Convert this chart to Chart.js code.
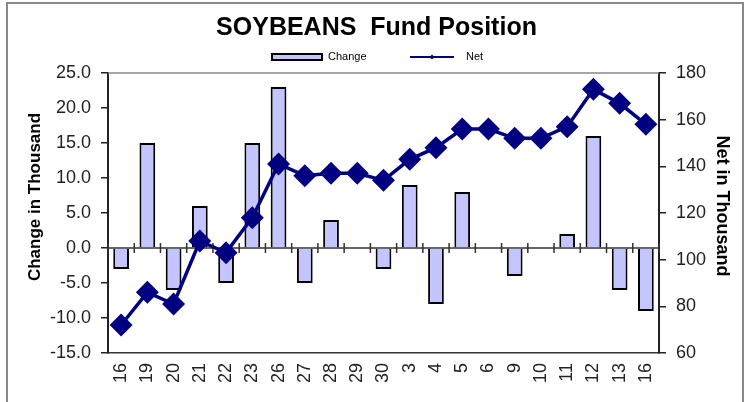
<!DOCTYPE html>
<html>
<head>
<meta charset="utf-8">
<script src="https://cdn.jsdelivr.net/npm/chart.js@4"></script>
<style>
  body { margin: 0; background: #fff; }
  #wrap { width: 755px; height: 402px; position: relative; }
</style>
</head>
<body>
<div id="wrap"><canvas id="fundChart" width="755" height="402"></canvas></div>
<script>
const dates = ["16", "19", "20", "21", "22", "23", "26", "27", "28", "29", "30", "3", "4", "5", "6", "9", "10", "11", "12", "13", "16"];
const changeValues = [-3, 15, -6, 6, -5, 15, 23, -5, 4, 0, -3, 9, -8, 8, 0, -4, 0, 2, 16, -6, -9];
const netValues = [72, 86, 81, 108, 103, 118, 141, 136, 137, 137, 134, 143, 148, 156, 156, 152, 152, 157, 173, 167, 158];

const barFill = "#c4c4ff";
const navy = "#000080";
const fontFamily = "Arial, 'Liberation Sans', sans-serif";

// frame, top border, zero line with ticks, axis titles and the legend
const decor = {
    id: "decor",
    beforeDatasetsDraw(chart) {
        const ctx = chart.ctx;
        const area = chart.chartArea;
        const x = chart.scales.x;
        const y = chart.scales.y;
        ctx.save();
        ctx.strokeStyle = "#888";
        ctx.lineWidth = 1.5;
        ctx.beginPath();
        ctx.moveTo(area.left, area.top);
        ctx.lineTo(area.right, area.top);
        ctx.stroke();

        const y0 = y.getPixelForValue(0);
        ctx.strokeStyle = "#333";
        ctx.lineWidth = 1.5;
        ctx.beginPath();
        ctx.moveTo(area.left, y0);
        ctx.lineTo(area.right, y0);
        const step = x.getPixelForValue(1) - x.getPixelForValue(0);
        for (let i = 0; i <= dates.length; i++) {
            const px = x.getPixelForValue(0) - step / 2 + i * step;
            ctx.moveTo(px, y0 - 5);
            ctx.lineTo(px, y0 + 5);
        }
        ctx.stroke();
        ctx.restore();
    },
    afterDraw(chart) {
        const ctx = chart.ctx;
        ctx.save();
        ctx.strokeStyle = "#888";
        ctx.lineWidth = 2;
        ctx.strokeRect(7, 3, 736, 430);

        // axis titles
        ctx.fillStyle = "#000";
        ctx.textAlign = "center";
        ctx.textBaseline = "middle";
        ctx.save();
        ctx.translate(35, 197);
        ctx.rotate(-Math.PI / 2);
        ctx.font = "bold 17px " + fontFamily;
        ctx.fillText("Change in Thousand", 0, 0);
        ctx.restore();
        ctx.save();
        ctx.translate(722, 206);
        ctx.rotate(Math.PI / 2);
        ctx.font = "bold 18px " + fontFamily;
        ctx.fillText("Net in Thousand", 0, 0);
        ctx.restore();

        // legend
        ctx.textAlign = "left";
        ctx.fillStyle = barFill;
        ctx.fillRect(272, 54, 50, 6);
        ctx.strokeStyle = "#000";
        ctx.lineWidth = 2;
        ctx.strokeRect(272, 54, 50, 6);
        ctx.font = "11px " + fontFamily;
        ctx.fillStyle = "#000";
        ctx.fillText("Change", 328, 57);

        ctx.strokeStyle = navy;
        ctx.lineWidth = 2;
        ctx.beginPath();
        ctx.moveTo(410, 57);
        ctx.lineTo(454, 57);
        ctx.stroke();
        ctx.fillStyle = navy;
        ctx.beginPath();
        ctx.moveTo(432, 54.5);
        ctx.lineTo(434.5, 57);
        ctx.lineTo(432, 59.5);
        ctx.lineTo(429.5, 57);
        ctx.fill();
        ctx.fillStyle = "#000";
        ctx.fillText("Net", 466, 57);
        ctx.restore();
    }
};

const ctx = document.getElementById("fundChart").getContext("2d");
new Chart(ctx, {
    data: {
        labels: dates,
        datasets: [
            {
                type: "line",
                label: "Net",
                data: netValues,
                yAxisID: "y1",
                borderColor: navy,
                backgroundColor: navy,
                borderWidth: 3.5,
                pointStyle: "rectRot",
                pointRadius: 9,
                pointBackgroundColor: navy,
                pointBorderColor: navy,
                tension: 0,
                order: 0
            },
            {
                type: "bar",
                label: "Change",
                data: changeValues,
                yAxisID: "y",
                backgroundColor: barFill,
                borderColor: "#000",
                borderWidth: 2,
                barPercentage: 0.6,
                categoryPercentage: 1,
                order: 1
            }
        ]
    },
    options: {
        responsive: false,
        animation: false,
        layout: { padding: { left: 10, right: 12, top: 0, bottom: 0 } },
        plugins: {
            legend: { display: false },
            tooltip: { enabled: false },
            title: {
                display: true,
                text: "SOYBEANS  Fund Position",
                color: "#000",
                font: { family: fontFamily, size: 25, weight: "bold" },
                padding: { top: 13, bottom: 30 }
            }
        },
        scales: {
            x: {
                offset: true,
                grid: { display: false },
                border: { display: true, color: "#333", width: 1.5 },
                ticks: {
                    color: "#222",
                    font: { family: fontFamily, size: 18 },
                    minRotation: 90,
                    maxRotation: 90,
                    autoSkip: false,
                    padding: 2
                },
                afterFit(scale) { scale.height = 49; }
            },
            y: {
                position: "left",
                min: -15,
                max: 25,
                grid: { drawOnChartArea: false, drawTicks: true, tickLength: 7, color: "#222", lineWidth: 1.5 },
                border: { display: true, color: "#222", width: 2 },
                ticks: {
                    stepSize: 5,
                    color: "#222",
                    padding: 10,
                    font: { family: fontFamily, size: 18 },
                    callback: (v) => v.toFixed(1)
                },
                afterFit(scale) { scale.width = 98; }
            },
            y1: {
                position: "right",
                min: 60,
                max: 180,
                grid: { drawOnChartArea: false, drawTicks: true, tickLength: 7, color: "#222", lineWidth: 1.5 },
                border: { display: true, color: "#222", width: 2 },
                ticks: {
                    stepSize: 20,
                    color: "#222",
                    padding: 10,
                    font: { family: fontFamily, size: 18 }
                },
                afterFit(scale) { scale.width = 84; }
            }
        }
    },
    plugins: [decor]
});
</script>
</body>
</html>
